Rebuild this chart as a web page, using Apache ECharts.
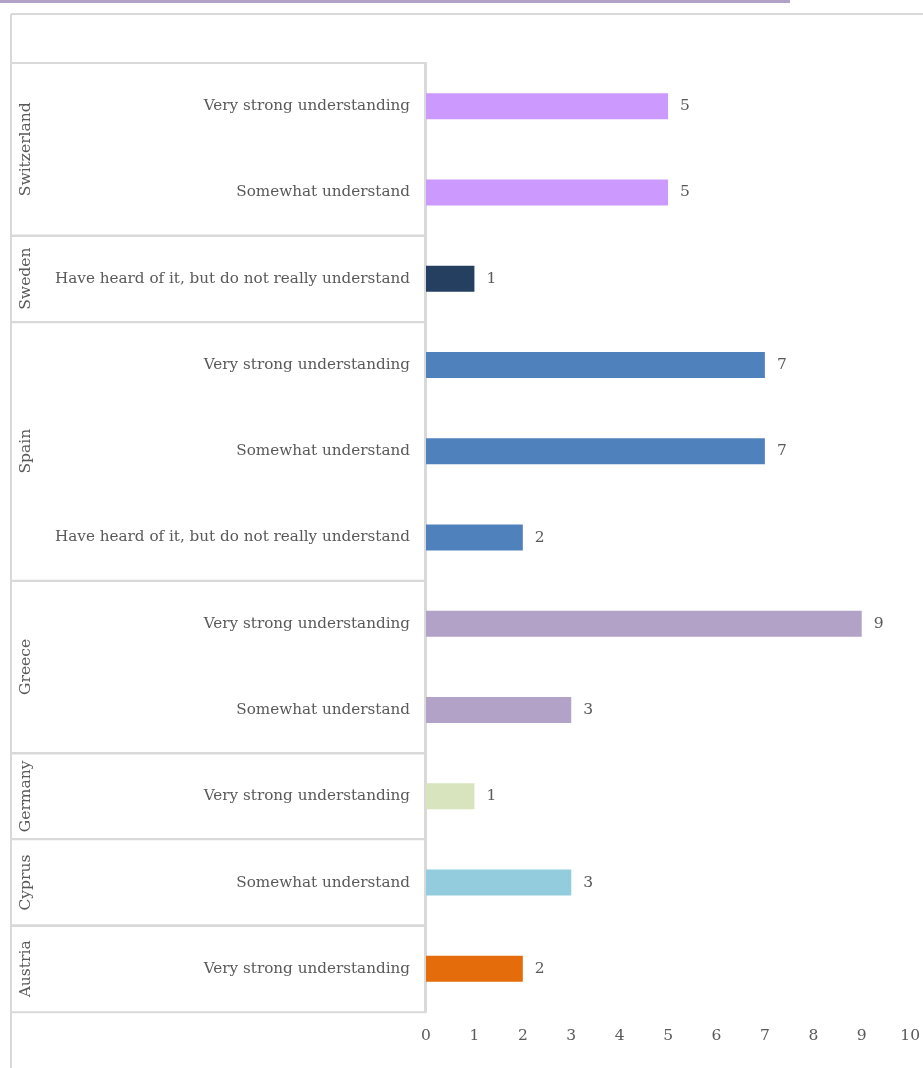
<!DOCTYPE html>
<html>
<head>
<meta charset="utf-8">
<script src="https://cdn.jsdelivr.net/npm/echarts@6/dist/echarts.min.js"></script>
<style>
  html, body { margin: 0; padding: 0; background: #fff; }
  #container { width: 923px; height: 1068px; }
</style>
</head>
<body>
<div id="container"></div>
<script>
// rows, top to bottom
var countries = ['Switzerland', 'Switzerland', 'Sweden', 'Spain', 'Spain', 'Spain', 'Greece', 'Greece', 'Germany', 'Cyprus', 'Austria'];
var answers = [
    'Very strong understanding',
    'Somewhat understand',
    'Have heard of it, but do not really understand',
    'Very strong understanding',
    'Somewhat understand',
    'Have heard of it, but do not really understand',
    'Very strong understanding',
    'Somewhat understand',
    'Very strong understanding',
    'Somewhat understand',
    'Very strong understanding'
];
var counts = [5, 5, 1, 7, 7, 2, 9, 3, 1, 3, 2];
var xTicks = [0, 1, 2, 3, 4, 5, 6, 7, 8, 9, 10];

var countryColors = {
    'Switzerland': '#CC99FF',
    'Sweden': '#243F60',
    'Spain': '#4F81BD',
    'Greece': '#B3A2C7',
    'Germany': '#D7E4BD',
    'Cyprus': '#93CDDD',
    'Austria': '#E46C0A'
};

var FONT = 'DejaVu Serif';
var TEXT = '#595959';
var LINE = '#D9D9D9';

// unique keys so repeated answers stay separate categories
var keys = answers.map(function (a, i) { return i + '|' + a; });

// group spans [first row, last row, name]
var groups = [];
countries.forEach(function (c, i) {
    var g = groups[groups.length - 1];
    if (g && g[2] === c) g[1] = i;
    else groups.push([i, i, c]);
});

var dom = document.getElementById('container');
var myChart = echarts.init(dom);

var option = {
    animation: false,
    textStyle: { fontFamily: FONT },
    grid: { left: 426, right: 9, top: 63, bottom: 56, containLabel: false },
    graphic: [
        { type: 'rect', shape: { x: 0, y: 0, width: 790, height: 3 }, style: { fill: '#B3A2C7' } },
        { type: 'line', shape: { x1: 11, y1: 14, x2: 923, y2: 14 }, style: { stroke: LINE, lineWidth: 2 } },
        { type: 'line', shape: { x1: 11, y1: 14, x2: 11, y2: 1068 }, style: { stroke: LINE, lineWidth: 2 } }
    ],
    xAxis: {
        type: 'value',
        min: 0,
        max: 10,
        interval: 1,
        splitLine: { show: false },
        axisLine: { show: false },
        axisTick: { show: false },
        axisLabel: {
            color: TEXT, fontSize: 15.5, fontFamily: FONT, margin: 16,
            formatter: function (v) { return xTicks.indexOf(v) >= 0 ? String(v) : ''; }
        }
    },
    yAxis: {
        type: 'category',
        inverse: true,
        data: keys,
        axisLine: { show: true, lineStyle: { color: LINE, width: 2 } },
        axisTick: { show: false },
        axisLabel: {
            color: TEXT, fontSize: 15.2, fontFamily: FONT, margin: 16,
            formatter: function (v) { return v.split('|')[1]; }
        }
    },
    series: [
        {
            type: 'bar',
            barWidth: 26,
            data: counts.map(function (v, i) {
                return { value: v, itemStyle: { color: countryColors[countries[i]] } };
            }),
            label: {
                show: true,
                position: 'right',
                distance: 12,
                color: TEXT,
                fontSize: 15.5,
                fontFamily: FONT
            }
        },
        {
            type: 'custom',
            clip: false,
            silent: true,
            encode: { x: 0, y: 1 },
            data: groups.map(function (g) { return [0, g[0], g[1], g[2]]; }),
            renderItem: function (params, api) {
                var first = api.coord([0, api.value(1)]);
                var last = api.coord([0, api.value(2)]);
                var band = api.size([0, 1])[1];
                var top = first[1] - band / 2;
                var bottom = last[1] + band / 2;
                var right = first[0] - 1;
                var left = 11;
                return {
                    type: 'group',
                    children: [
                        {
                            type: 'rect',
                            shape: { x: left, y: Math.round(top), width: right - left, height: bottom - top },
                            style: { fill: 'none', stroke: LINE, lineWidth: 2 }
                        },
                        {
                            type: 'text',
                            x: 26,
                            y: (top + bottom) / 2,
                            rotation: Math.PI / 2,
                            style: {
                                text: api.value(3),
                                fill: TEXT,
                                font: '15.5px "' + FONT + '"',
                                align: 'center',
                                verticalAlign: 'middle'
                            }
                        }
                    ]
                };
            }
        }
    ]
};
myChart.setOption(option);
</script>
</body>
</html>
